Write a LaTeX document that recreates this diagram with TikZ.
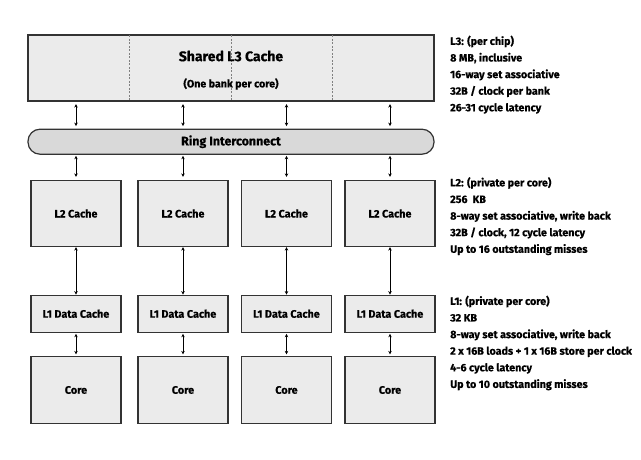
\documentclass[tikz,border=0pt]{standalone}
\usepackage{fontspec}
\setmainfont{Fira Sans}[BoldFeatures={FakeBold=0.6}]
\usetikzlibrary{arrows.meta}
\definecolor{boxfill}{HTML}{EBEBEB}
\definecolor{ringfill}{HTML}{D9D9D9}
\definecolor{linec}{HTML}{333333}
\begin{document}
\begin{tikzpicture}[x=1pt,y=-1pt,
  font=\bfseries,
  box/.style={draw=linec, fill=boxfill, line width=1.2pt, inner sep=0pt, minimum width=90pt, font=\bfseries\fontsize{10.8}{12}\selectfont},
  arr/.style={{Stealth[length=3.5pt,width=3.5pt]}-{Stealth[length=3.5pt,width=3.5pt]}, line width=0.8pt, draw=black},
  divider/.style={draw=gray, dashed, line width=0.6pt, dash pattern=on 2pt off 1.5pt},
  info/.style={anchor=north west, align=left, inner sep=0pt, font=\bfseries\fontsize{10.7}{16.6}\selectfont}]
\useasboundingbox (0,0) rectangle (641,460);
% L3 cache
\node[box, minimum width=406pt, minimum height=66pt] (l3) at (231,68) {};
\draw[divider] (129.5,35.3) -- (129.5,100.7);
\draw[divider] (231,35.3) -- (231,100.7);
\draw[divider] (332.5,35.3) -- (332.5,100.7);
\node[font=\bfseries\fontsize{14}{16}\selectfont, inner sep=0pt] (l3t) at (231,56) {Shared L3 Cache};
\node[font=\bfseries\fontsize{10.6}{12}\selectfont, inner sep=0pt] (l3s) at (231,84) {(One bank per core)};
% ring
\node[box, fill=ringfill, rounded corners=12pt, minimum width=406pt, minimum height=25pt, font=\bfseries\fontsize{12.4}{14}\selectfont] (ring) at (231,141.7) {Ring Interconnect};
% columns
\foreach \i/\x in {a/76,b/183,c/286.5,d/390}{
  \node[box, minimum height=66pt] (l2\i) at (\x,213.5) {L2 Cache};
  \node[box, minimum height=37pt] (l1\i) at (\x,313.7) {L1 Data Cache};
  \node[box, minimum height=67pt] (core\i) at (\x,390) {Core};
  \draw[arr, shorten <=2.5pt, shorten >=2.5pt] (l3.south -| l2\i.north) -- (ring.north -| l2\i.north);
  \draw[arr, shorten <=1pt, shorten >=3pt] (ring.south -| l2\i.north) -- (l2\i.north);
  \draw[arr] (l2\i.south) -- (l1\i.north);
  \draw[arr, shorten <=1pt, shorten >=1.5pt] (l1\i.south) -- (core\i.north);
}
% info texts
\node[info] (l3info) at (450,35.5) {L3: (per chip)\\8 MB, inclusive\\16-way set associative\\32B / clock per bank\\26-31 cycle latency};
\node[info] (l2info) at (450,177) {L2: (private per core)\\256\ \ KB\\8-way set associative, write back\\32B / clock, 12 cycle latency\\Up to 16 outstanding misses};
\node[info] (l1info) at (450,295.5) {L1: (private per core)\\32 KB\\8-way set associative, write back\\2 x 16B loads + 1 x 16B store per clock\\4-6 cycle latency\\Up to 10 outstanding misses};
\end{tikzpicture}
\end{document}
